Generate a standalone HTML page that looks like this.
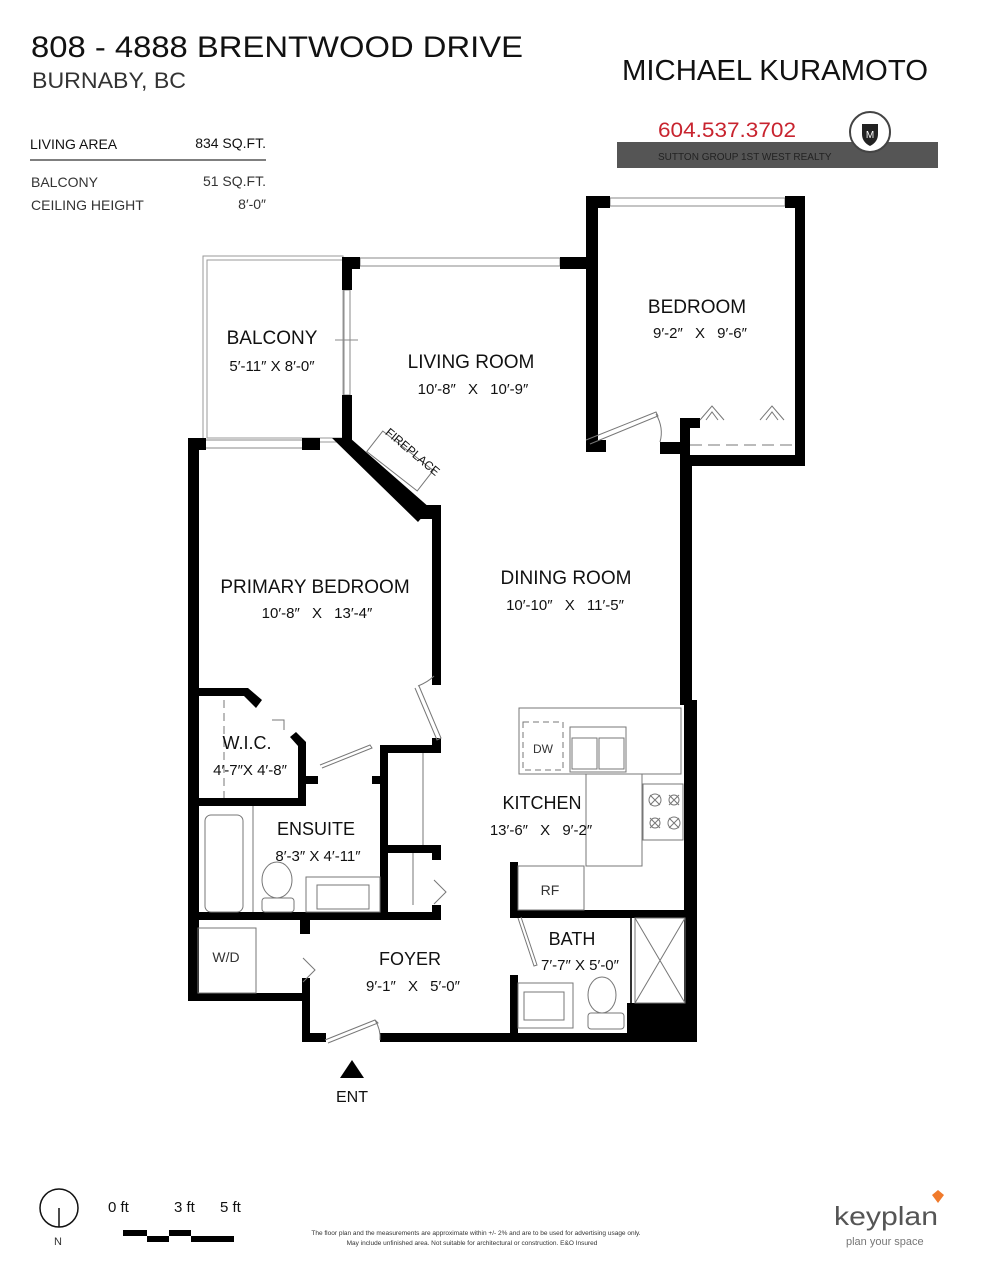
<!DOCTYPE html>
<html><head><meta charset="utf-8"><style>
html,body{margin:0;padding:0;background:#fff;}
svg{display:block;}
text{font-family:"Liberation Sans",sans-serif;}
.d{word-spacing:8px;}
</style></head><body>
<svg width="988" height="1280" viewBox="0 0 988 1280" xmlns="http://www.w3.org/2000/svg">
<!-- header -->
<text x="31" y="57" font-size="30" fill="#111" textLength="492" lengthAdjust="spacingAndGlyphs">808 - 4888 BRENTWOOD DRIVE</text>
<text x="32" y="88" font-size="22" fill="#333" textLength="154" lengthAdjust="spacingAndGlyphs">BURNABY, BC</text>
<text x="30" y="149" font-size="14" fill="#111">LIVING AREA</text>
<text x="266" y="148" font-size="14" fill="#111" text-anchor="end">834 SQ.FT.</text>
<line x1="30" y1="160" x2="266" y2="160" stroke="#333" stroke-width="1.2"/>
<text x="31" y="187" font-size="14" fill="#333">BALCONY</text>
<text x="266" y="186" font-size="14" fill="#333" text-anchor="end">51 SQ.FT.</text>
<text x="31" y="210" font-size="14" fill="#333">CEILING HEIGHT</text>
<text x="266" y="209" font-size="14" fill="#333" text-anchor="end">8′-0″</text>

<text x="622" y="80" font-size="29" fill="#111" textLength="306" lengthAdjust="spacingAndGlyphs">MICHAEL KURAMOTO</text>
<text x="658" y="137" font-size="21" fill="#c8242f" textLength="138" lengthAdjust="spacingAndGlyphs">604.537.3702</text>
<rect x="617" y="142" width="321" height="26" fill="#555"/>
<text x="658" y="160" font-size="10" fill="#222">SUTTON GROUP 1ST WEST REALTY</text>
<circle cx="870" cy="132" r="20" fill="#fff" stroke="#444" stroke-width="2"/>
<path d="M862 124 h16 v10 q0 8 -8 12 q-8 -4 -8 -12z" fill="#222"/>
<text x="870" y="138" font-size="10" fill="#fff" text-anchor="middle" font-family="Liberation Serif">M</text>

<!-- balcony -->
<g fill="none" stroke="#999" stroke-width="1">
<rect x="203" y="256" width="140" height="186"/>
<rect x="207" y="260" width="136" height="178"/>
</g>
<!-- windows -->
<g fill="#fff" stroke="#888" stroke-width="1">
<rect x="360" y="258" width="200" height="8"/>
<rect x="610" y="198" width="175" height="8"/>
<rect x="344" y="290" width="6" height="105"/>
<rect x="205" y="440" width="100" height="8"/>
</g>
<line x1="335" y1="340" x2="358" y2="340" stroke="#888"/>
<!-- walls -->
<g fill="#000">
<rect x="342" y="257" width="18" height="12"/>
<rect x="342" y="257" width="10" height="33"/>
<rect x="342" y="395" width="10" height="50"/>
<rect x="560" y="257" width="28" height="12"/>
<rect x="586" y="196" width="24" height="12"/>
<rect x="586" y="196" width="12" height="256"/>
<rect x="586" y="440" width="20" height="12"/>
<rect x="785" y="196" width="20" height="12"/>
<rect x="795" y="196" width="10" height="270"/>
<rect x="660" y="442" width="30" height="12"/>
<rect x="680" y="418" width="20" height="10"/>
<rect x="680" y="418" width="10" height="50"/>
<rect x="680" y="455" width="125" height="11"/>
<rect x="680" y="455" width="12" height="250"/>
<rect x="684" y="700" width="13" height="342"/>
<!-- primary bedroom -->
<rect x="188" y="438" width="18" height="12"/>
<rect x="188" y="438" width="11" height="563"/>
<rect x="302" y="438" width="18" height="12"/>
<polygon points="332,438 350,438 430,508 418,522"/>
<rect x="415" y="505" width="26" height="14"/>
<rect x="432" y="505" width="9" height="180"/>
<polygon points="198,688 248,688 262,700 256,708 244,696 198,696"/>
<polygon points="290,737 296,732 306,742 306,800 298,800 298,746"/>
<rect x="198" y="798" width="108" height="8"/>
<rect x="306" y="776" width="12" height="8"/>
<rect x="372" y="776" width="14" height="8"/>
<rect x="380" y="745" width="8" height="172"/>
<rect x="380" y="745" width="61" height="8"/>
<rect x="432" y="738" width="9" height="15"/>
<rect x="388" y="845" width="53" height="8"/>
<rect x="432" y="845" width="9" height="15"/>
<rect x="432" y="905" width="9" height="12"/>
<rect x="188" y="912" width="253" height="8"/>
<rect x="300" y="912" width="10" height="22"/>
<rect x="188" y="993" width="122" height="8"/>
<rect x="302" y="978" width="8" height="64"/>
<rect x="302" y="1033" width="24" height="9"/>
<rect x="380" y="1033" width="317" height="9"/>
<rect x="510" y="862" width="8" height="56"/>
<rect x="510" y="910" width="187" height="8"/>
<rect x="510" y="975" width="8" height="67"/>
<rect x="627" y="1003" width="70" height="39"/>
</g>
<!-- fixtures -->
<g fill="none" stroke="#777" stroke-width="1">
<rect x="368" y="448" width="64" height="26" transform="rotate(38 400 461)"/>
<path d="M586 440 l70 -28 l2 4 l-68 28"/>
<path d="M660 442 q4 -14 -4 -28"/>
<path d="M700 420 l12 -14 l12 14 M706 420 l6 -8 l6 8 M760 420 l12 -14 l12 14 M766 420 l6 -8 l6 8"/>
<path d="M690 445 h105" stroke-dasharray="12 6"/>
<path d="M415 688 l22 52 l4 -2 l-22 -52"/>
<path d="M418 686 q10 -4 16 -10"/>
<path d="M519 708 h162 v66 h-162z"/>
<path d="M586 774 h56 v92 h-56z M519 774 h66"/>
<path d="M643 784 h40 v56 h-40z"/>
<rect x="523" y="722" width="40" height="48" stroke-dasharray="6 4"/>
<rect x="570" y="727" width="56" height="45"/>
<rect x="572" y="738" width="25" height="31"/>
<rect x="599" y="738" width="25" height="31"/>
<rect x="518" y="866" width="66" height="44"/>
<circle cx="655" cy="800" r="6"/><circle cx="674" cy="800" r="5"/>
<circle cx="655" cy="823" r="5"/><circle cx="674" cy="823" r="6"/>
<path d="M650 795l10 10M660 795l-10 10M669 795l10 10M679 795l-10 10M650 818l10 10M660 818l-10 10M669 818l10 10M679 818l-10 10"/>
<rect x="205" y="815" width="38" height="97" rx="6"/>
<line x1="253" y1="806" x2="253" y2="912"/>
<ellipse cx="277" cy="880" rx="15" ry="18"/>
<rect x="262" y="898" width="32" height="14" rx="3"/>
<rect x="306" y="877" width="74" height="35"/>
<rect x="317" y="885" width="52" height="24"/>
<path d="M320 765 l50 -20 l2 3 l-50 20"/>
<path d="M423 753 v92 M413 853 v52"/>
<path d="M434 880 l12 12 l-12 12"/>
<rect x="198" y="928" width="58" height="65"/>
<path d="M303 958 l12 12 l-12 12"/>
<path d="M325 1040 l50 -20 l3 3 l-50 20 M375 1020 q6 10 5 20"/>
<path d="M518 918 l16 48 l3 -1 l-16 -48"/>
<rect x="518" y="983" width="55" height="45"/>
<rect x="524" y="992" width="40" height="28"/>
<ellipse cx="602" cy="995" rx="14" ry="18"/>
<rect x="588" y="1013" width="36" height="16" rx="3"/>
<rect x="635" y="918" width="50" height="85"/>
<path d="M635 918 l50 85 M685 918 l-50 85"/>
<line x1="631" y1="918" x2="631" y2="1003" stroke="#333" stroke-width="2"/>
<line x1="224" y1="700" x2="224" y2="798" stroke-dasharray="8 5"/>
<path d="M272 720 h12 v10"/>
</g>
<!-- labels -->
<g fill="#111" text-anchor="middle">
<text x="272" y="344" font-size="19">BALCONY</text>
<text x="272" y="371" font-size="15">5′-11″ X 8′-0″</text>
<text x="471" y="368" font-size="19">LIVING ROOM</text>
<text x="473" y="394" font-size="15" class="d">10′-8″ X 10′-9″</text>
<text x="697" y="313" font-size="19">BEDROOM</text>
<text x="700" y="338" font-size="15" class="d">9′-2″ X 9′-6″</text>
<text x="315" y="593" font-size="19">PRIMARY BEDROOM</text>
<text x="317" y="618" font-size="15" class="d">10′-8″ X 13′-4″</text>
<text x="566" y="584" font-size="19">DINING ROOM</text>
<text x="565" y="610" font-size="15" class="d">10′-10″ X 11′-5″</text>
<text x="247" y="749" font-size="18">W.I.C.</text>
<text x="250" y="775" font-size="15">4′-7″X 4′-8″</text>
<text x="316" y="835" font-size="18">ENSUITE</text>
<text x="318" y="861" font-size="15">8′-3″ X 4′-11″</text>
<text x="542" y="809" font-size="18">KITCHEN</text>
<text x="541" y="835" font-size="15" class="d">13′-6″ X 9′-2″</text>
<text x="572" y="945" font-size="18">BATH</text>
<text x="580" y="970" font-size="15">7′-7″ X 5′-0″</text>
<text x="410" y="965" font-size="18">FOYER</text>
<text x="413" y="991" font-size="15" class="d">9′-1″ X 5′-0″</text>
<text x="226" y="962" font-size="14" fill="#333">W/D</text>
<text x="550" y="895" font-size="14" fill="#333">RF</text>
<text x="543" y="753" font-size="12" fill="#333">DW</text>
<text x="352" y="1102" font-size="16">ENT</text>
<text x="410" y="455" font-size="12" transform="rotate(40 410 455)">FIREPLACE</text>
</g>
<polygon points="352,1060 340,1078 364,1078" fill="#000"/>
<!-- footer -->
<circle cx="59" cy="1208" r="19" fill="none" stroke="#111" stroke-width="1.5"/>
<line x1="59" y1="1208" x2="59" y2="1227" stroke="#111" stroke-width="1.5"/>
<text x="58" y="1245" font-size="11" text-anchor="middle" fill="#333">N</text>
<text x="108" y="1212" font-size="15" fill="#111">0 ft</text>
<text x="174" y="1212" font-size="15" fill="#111">3 ft</text>
<text x="220" y="1212" font-size="15" fill="#111">5 ft</text>
<path d="M123 1230 h24 v6 h22 v-6 h22 v6 h43 v6 h-43 v-6 h-22 v6 h-22 v-6 h-24z" fill="#000"/>
<text x="476" y="1235" font-size="6.5" fill="#333" text-anchor="middle">The floor plan and the measurements are approximate within +/- 2% and are to be used for advertising usage only.</text>
<text x="472" y="1245" font-size="6.5" fill="#333" text-anchor="middle">May include unfinished area. Not suitable for architectural or construction. E&amp;O Insured</text>
<text x="834" y="1225" font-size="26" fill="#555" textLength="104" lengthAdjust="spacingAndGlyphs">keyplan</text>
<path d="M932 1195 l6 -5 l6 5 l-6 8z" fill="#f07a2b"/>
<text x="846" y="1245" font-size="11" fill="#777">plan your space</text>
</svg>
</body></html>
